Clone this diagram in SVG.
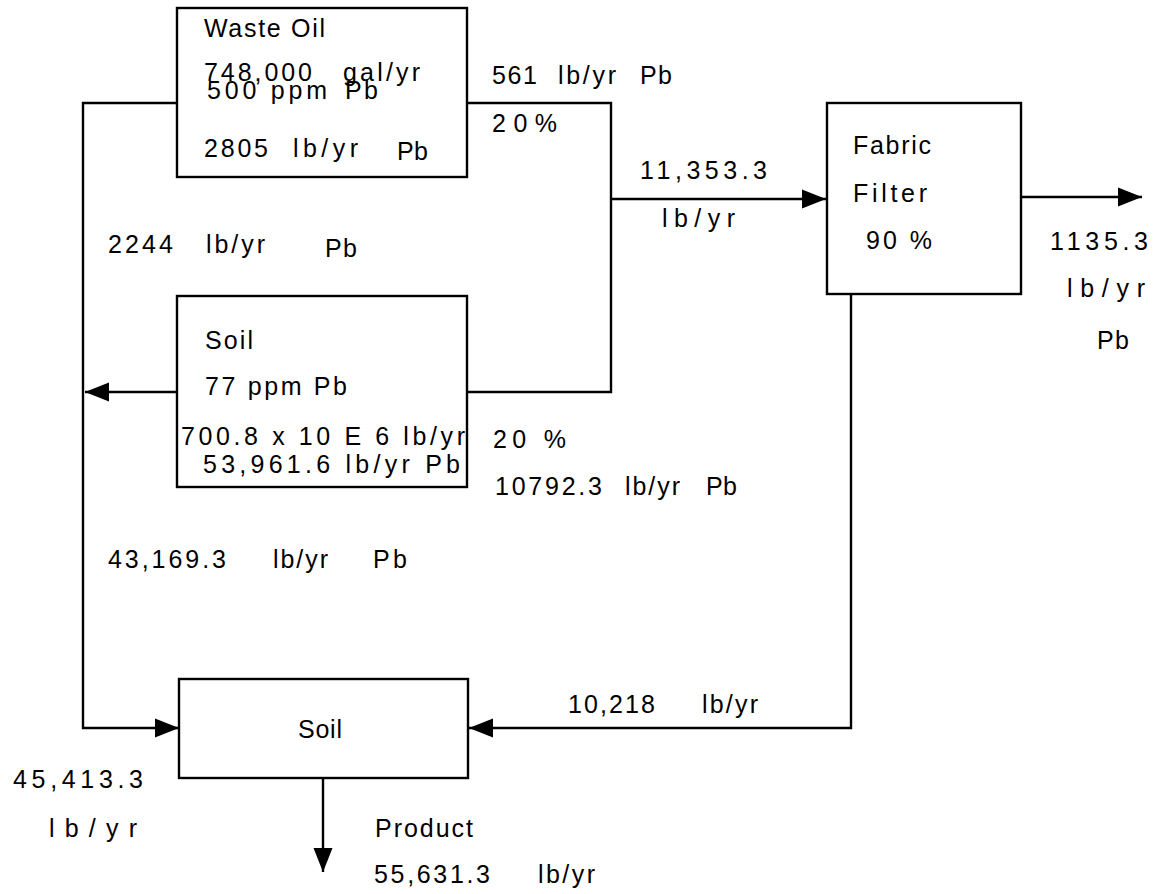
<svg xmlns="http://www.w3.org/2000/svg" width="1163" height="894" viewBox="0 0 1163 894">
<style>
text{font-family:"Liberation Sans",Arial,sans-serif;font-size:25px;fill:#000}
.box{fill:#fff;stroke:#000;stroke-width:2.4}
.wire{fill:none;stroke:#000;stroke-width:2.4}
</style>
<defs>
<marker id="ah" markerUnits="userSpaceOnUse" markerWidth="26" markerHeight="22" refX="24" refY="11" orient="auto">
<path d="M0,1.5 L24,11 L0,20.5 z" fill="#000"/>
</marker>
</defs>
<rect width="1163" height="894" fill="#fff"/>
<g id="connectors">
<path class="wire" d="M177,103 H83 V728 H179" marker-end="url(#ah)"/>
<path class="wire" d="M177,392 H85" marker-end="url(#ah)"/>
<path class="wire" d="M467,103 H611 V392 H467"/>
<path class="wire" d="M611,199 H826" marker-end="url(#ah)"/>
<path class="wire" d="M1021,197 H1142" marker-end="url(#ah)"/>
<path class="wire" d="M851,294 V728 H469" marker-end="url(#ah)"/>
<path class="wire" d="M323,778 V872" marker-end="url(#ah)"/>
</g>
<g id="waste-oil">
<rect class="box" x="177" y="8" width="290" height="169"/>
<text x="204" y="37" textLength="121">Waste Oil</text>
<text x="204" y="81" textLength="108">748,000</text>
<text x="343" y="81" textLength="77">gal/yr</text>
<text x="207" y="99" textLength="120">500 ppm</text>
<text x="345" y="99" textLength="33">Pb</text>
<text x="204" y="157" textLength="64">2805</text>
<text x="293" y="157" textLength="65">lb/yr</text>
<text x="397" y="160" textLength="31">Pb</text>
</g>
<g id="fabric-filter">
<rect class="box" x="827" y="103" width="194" height="191"/>
<text x="853" y="154" textLength="78">Fabric</text>
<text x="853" y="202" textLength="74">Filter</text>
<text x="866" y="249" textLength="66">90 %</text>
</g>
<g id="soil-source">
<rect class="box" x="177" y="296" width="290" height="191"/>
<text x="205" y="349" textLength="48">Soil</text>
<text x="205" y="395" textLength="142">77 ppm Pb</text>
<text x="181" y="445" textLength="284">700.8 x 10 E 6 lb/yr</text>
<text x="203" y="473" textLength="257">53,961.6  lb/yr  Pb</text>
</g>
<g id="soil-product">
<rect class="box" x="179" y="679" width="289" height="99"/>
<text x="298" y="738" textLength="44">Soil</text>
</g>
<g id="labels">
<text x="492" y="84" textLength="45">561</text>
<text x="558" y="84" textLength="58">lb/yr</text>
<text x="640" y="84" textLength="32">Pb</text>
<text x="492" y="132" textLength="65">20%</text>
<text x="640" y="179" textLength="127">11,353.3</text>
<text x="662" y="227" textLength="73">lb/yr</text>
<text x="1050" y="250" textLength="98">1135.3</text>
<text x="1067" y="297" textLength="78">lb/yr</text>
<text x="1097" y="349" textLength="32">Pb</text>
<text x="108" y="253" textLength="65">2244</text>
<text x="206" y="253" textLength="59">lb/yr</text>
<text x="325" y="257" textLength="32">Pb</text>
<text x="493" y="448" textLength="73">20 %</text>
<text x="495" y="495" textLength="107">10792.3</text>
<text x="625" y="495" textLength="55">lb/yr</text>
<text x="706" y="495" textLength="31">Pb</text>
<text x="108" y="568" textLength="118">43,169.3</text>
<text x="273" y="568" textLength="55">lb/yr</text>
<text x="373" y="568" textLength="34">Pb</text>
<text x="568" y="713" textLength="87">10,218</text>
<text x="702" y="713" textLength="56">lb/yr</text>
<text x="13" y="788" textLength="130">45,413.3</text>
<text x="49" y="837" textLength="88">lb/yr</text>
<text x="375" y="837" textLength="98">Product</text>
<text x="374" y="883" textLength="116">55,631.3</text>
<text x="538" y="883" textLength="57">lb/yr</text>
</g>
</svg>
